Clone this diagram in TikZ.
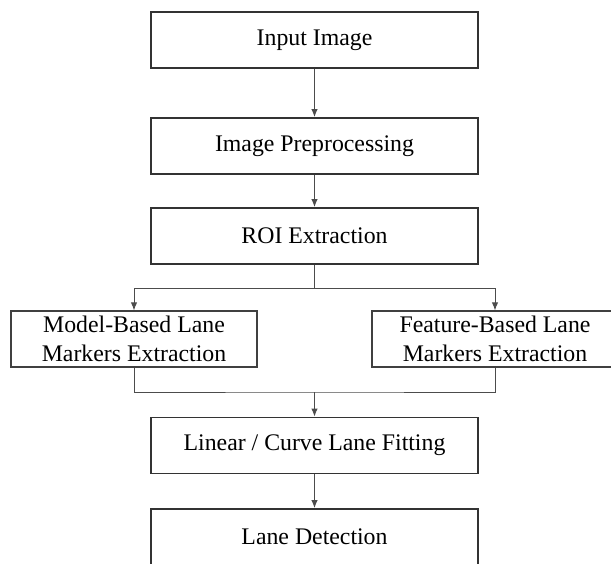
\documentclass[tikz,border=0pt]{standalone}
\usepackage{fontspec}
\setmainfont{Liberation Serif}
\usetikzlibrary{arrows.meta}

\tikzset{
    mainbox/.style={draw=black!80, line width=0.9pt, minimum width=163.5pt, minimum height=28pt, inner sep=0pt, align=center},
    sidebox/.style={draw=black!75, line width=0.55pt, minimum width=123pt, minimum height=28pt, inner sep=0pt, align=center},
    link/.style={draw=black!70, line width=0.5pt},
    arrowlink/.style={link, -{Latex[length=4pt,width=3.2pt]}}
}

\begin{document}
\begin{tikzpicture}[x=0.5pt, y=-0.5pt, font=\fontsize{11.9}{14.5}\selectfont]
    \useasboundingbox (0,0) rectangle (611,563);

    % Main chain
    \node[mainbox] (input) at (314.5,40) {Input Image};
    \node[mainbox] (prep) at (314.5,146) {Image Preprocessing};
    \node[mainbox] (roi) at (314.5,236) {ROI Extraction};

    % Two extraction branches
    \node[sidebox] (model) at (134,339) {Model-Based Lane\\Markers Extraction};
    \node[sidebox] (feature) at (495,339) {Feature-Based Lane\\Markers Extraction};

    % Fitting and result
    \node[mainbox] (fit) at (314.5,445.5) {Linear / Curve Lane Fitting};
    \node[mainbox] (detect) at (314.5,537) {Lane Detection};

    \coordinate (split) at (314.5,288);
    \coordinate (merge) at (314.5,392);

    % Connectors
    \draw[arrowlink] (input) -- (prep);
    \draw[arrowlink] (prep) -- (roi);
    \draw[link] (roi) -- (split);
    \draw[arrowlink] (split) -| (model);
    \draw[arrowlink] (split) -| (feature);
    \draw[link] (model) |- (merge) -| (feature);
    \draw[arrowlink] (merge) -- (fit);
    \draw[arrowlink] (fit) -- (detect);
\end{tikzpicture}
\end{document}
